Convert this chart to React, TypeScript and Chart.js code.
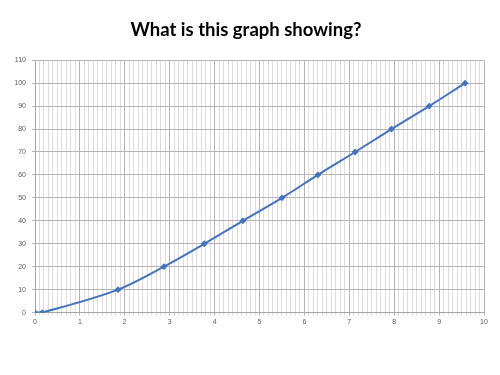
import React, { useEffect, useRef } from "react";
import { Chart, registerables } from "chart.js";

Chart.register(...registerables);

const titleText = "What is this graph showing?";
const xValues = [0, 0.16, 1.85, 2.87, 3.77, 4.63, 5.5, 6.3, 7.13, 7.94, 8.78, 9.58];
const yValues = [0, 0, 10, 20, 30, 40, 50, 60, 70, 80, 90, 100];
const xMin = 0;
const xMax = 10;
const xStep = 0.1;
const yMin = 0;
const yMax = 110;
const yStep = 10;

export default function App() {
  const ref = useRef<HTMLCanvasElement | null>(null);
  useEffect(() => {
    document.body.style.margin = "0";
    const ctx = ref.current!;
    const chart = new Chart(ctx, {
      type: "scatter",
      data: {
        datasets: [
          {
            data: xValues.map((x, i) => ({ x, y: yValues[i] })),
            showLine: true,
            borderColor: "#4173be",
            backgroundColor: "#4173be",
            borderWidth: 2,
            pointRadius: 2,
            pointStyle: "rectRot",
            tension: 0.35,
          },
        ],
      },
      options: {
        animation: false,
        responsive: false,
        devicePixelRatio: 1,
        layout: { padding: { left: 8, right: 16, top: 0, bottom: 47 } },
        plugins: {
          legend: { display: false },
          tooltip: { enabled: false },
          title: {
            display: true,
            text: titleText,
            color: "#000000",
            font: { family: "Lato, 'Open Sans', sans-serif", size: 18.5, weight: "bold" },
            padding: { top: 19, bottom: 19 },
          },
        },
        scales: {
          x: {
            type: "linear",
            min: xMin,
            max: xMax,
            ticks: {
              stepSize: xStep,
              autoSkip: false,
              maxRotation: 0,
              color: "#595959",
              font: { family: "'Liberation Sans', Arial, sans-serif", size: 7 },
              padding: 2,
              callback: (v: any) => {
                const n = Math.round(Number(v) * 10);
                return n % 10 === 0 ? String(n / 10) : "";
              },
            },
            grid: {
              color: (c: any) => {
                const n = Math.round(Number(c.tick?.value ?? 0) * 10);
                return n % 10 === 0 ? "#b3b3b3" : "#dcdcdc";
              },
              tickLength: 3,
              lineWidth: 1,
            },
            border: { color: "#a6a6a6" },
          },
          y: {
            type: "linear",
            min: yMin,
            max: yMax,
            ticks: {
              stepSize: yStep,
              color: "#595959",
              font: { family: "'Liberation Sans', Arial, sans-serif", size: 7 },
              padding: 6,
            },
            grid: { color: "#b3b3b3", tickLength: 3 },
            border: { color: "#a6a6a6" },
            afterFit: (s: any) => {
              s.width = 27;
            },
          },
        },
      },
    });
    return () => chart.destroy();
  }, []);
  return (
    <div style={{ position: "fixed", left: 0, top: 0, width: 500, height: 375, background: "#fff" }}>
      <canvas ref={ref} width={500} height={375} style={{ width: 500, height: 375 }} />
    </div>
  );
}
